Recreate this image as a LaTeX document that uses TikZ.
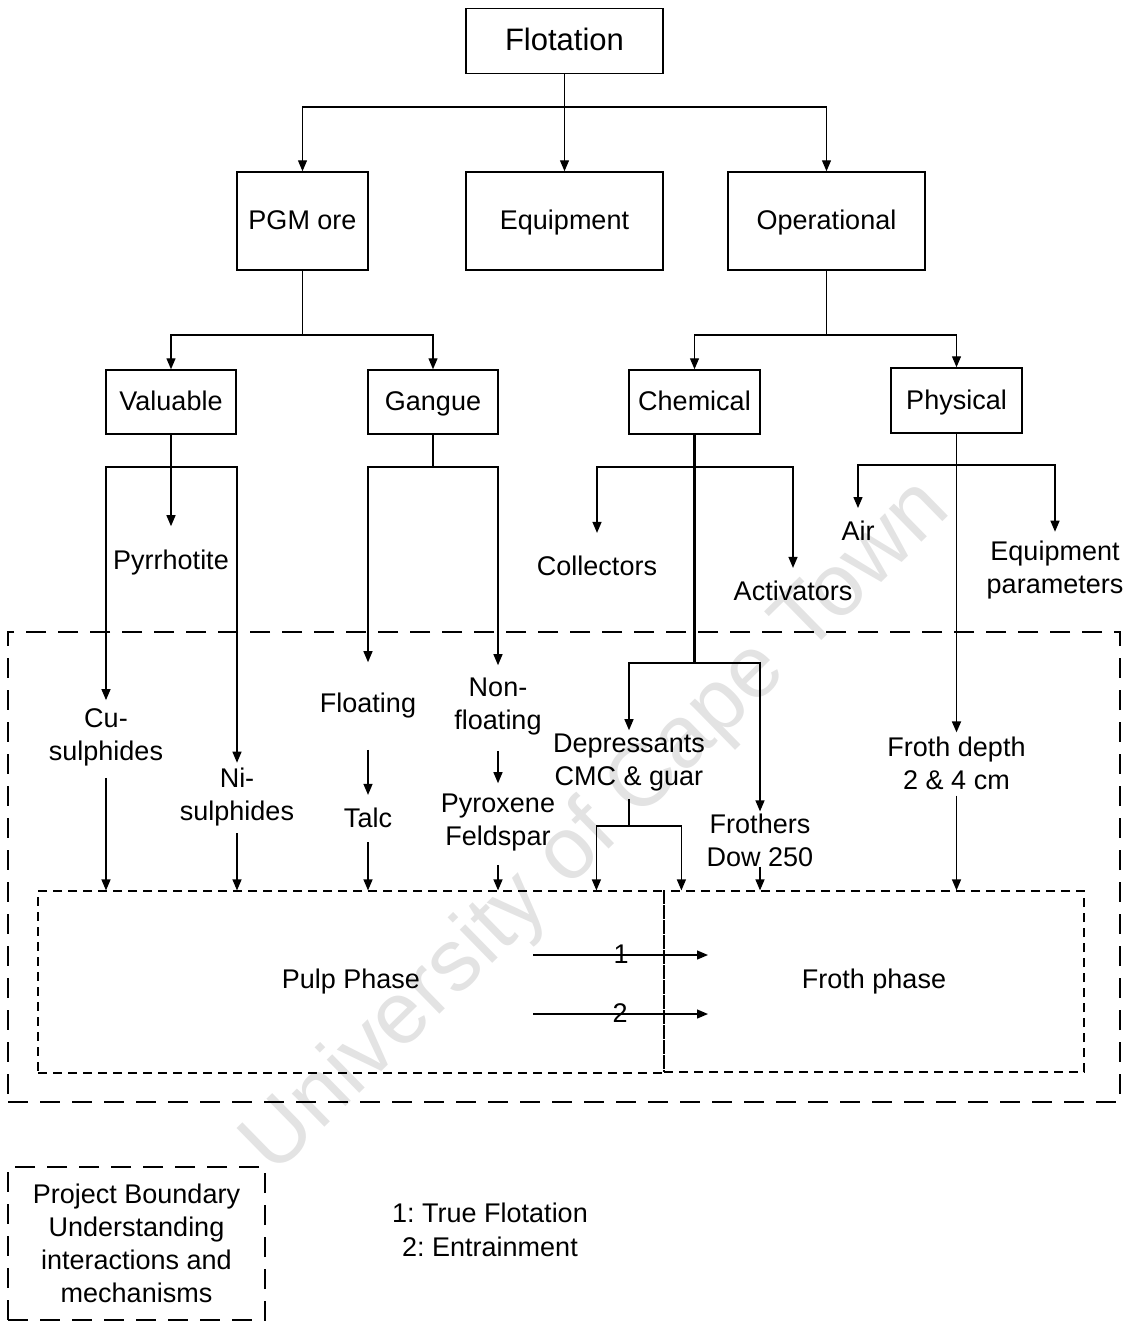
\documentclass[tikz,border=0pt]{standalone}
\usepackage{fontspec}
\setmainfont{Liberation Sans}
\usetikzlibrary{arrows.meta,calc}
\newcommand\fsmain{\fontsize{27}{33}\selectfont}
\newcommand\fsbig{\fontsize{31}{36}\selectfont}
\frenchspacing
\begin{document}
\frenchspacing
\begin{tikzpicture}[x=1pt,y=-1pt,
  box/.style={draw, line width=1.5pt, inner sep=0pt, font=\fsmain, text height=21pt, text depth=4pt},
  txt/.style={inner sep=0pt, align=center, font=\fsmain},
  ln/.style={line width=1.3pt},
  trunk/.style={line width=2.2pt},
  arr/.style={line width=1.3pt, -{Triangle[length=11pt,width=9pt]}},
  bigdash/.style={draw, line width=2.2pt, dash pattern=on 20pt off 12pt},
  smalldash/.style={draw, line width=1.2pt, dash pattern=on 9pt off 6pt, inner sep=0pt, font=\fsmain}
]
\useasboundingbox (0,0) rectangle (1127,1322);
% watermark
\node[rotate=44.4, text=black!11, inner sep=0pt, font=\fontsize{88}{90}\selectfont] (wm) at (598,828) {University of Cape Town};

% boxes
\node[box, minimum width=197pt, minimum height=65pt, font=\fsbig, text height=24pt, text depth=5pt] (flot) at (564.5,41) {Flotation};
\node[box, minimum width=131pt, minimum height=98pt] (pgm) at (302.5,221) {PGM ore};
\node[box, minimum width=197pt, minimum height=98pt] (equip) at (564.5,221) {Equipment};
\node[box, minimum width=197pt, minimum height=98pt] (oper) at (826.5,221) {Operational};
\node[box, minimum width=130pt, minimum height=64pt] (val) at (171,402) {Valuable};
\node[box, minimum width=130pt, minimum height=64pt] (gang) at (433,402) {Gangue};
\node[box, minimum width=131pt, minimum height=64pt] (chem) at (694.5,402) {Chemical};
\node[box, minimum width=131pt, minimum height=65pt] (phys) at (956.5,400.5) {Physical};

% boundary and phases
\node[bigdash, minimum width=1112pt, minimum height=470pt, inner sep=0pt] (bound) at (564,867) {};
\node[smalldash, minimum width=626pt, minimum height=182pt] (pulp) at (351,982) {Pulp Phase};
\node[smalldash, minimum width=420pt, minimum height=181pt] (frothph) at (874,981.5) {Froth phase};

% text nodes
\node[txt] (pyr) at (171,563) {Pyrrhotite};
\node[txt] (cu) at (106,737) {Cu-\\sulphides};
\node[txt] (ni) at (237,797) {Ni-\\sulphides};
\node[txt] (flt) at (368,706) {Floating};
\node[txt] (nonf) at (498,707) {Non-\\floating};
\node[txt] (talc) at (368,818) {Talc};
\node[txt] (pyrox) at (498,823) {Pyroxene\\Feldspar};
\node[txt] (coll) at (597,566) {Collectors};
\node[txt] (act) at (793,591) {Activators};
\node[txt] (dep) at (629,763) {Depressants\\CMC \& guar};
\node[txt] (froth) at (760,840) {Frothers\\Dow 250};
\node[txt] (air) at (858,531) {Air};
\node[txt] (eqp) at (1055,570) {Equipment\\parameters};
\node[txt] (fd) at (956.5,763) {Froth depth\\2 \& 4 cm};

% top level connectors
\coordinate (j1) at (564.5,107);
\draw[ln] (flot.south) -- (j1);
\draw[arr] (j1) -| (pgm.north);
\draw[arr] (j1) -- (equip.north);
\draw[arr] (j1) -| (oper.north);

\coordinate (j2) at (302.5,335);
\draw[ln] (pgm.south) -- (j2);
\draw[arr] (j2) -| (val.north);
\draw[arr] (j2) -| (gang.north);

\coordinate (j3) at (826.5,335);
\draw[ln] (oper.south) -- (j3);
\draw[arr] (j3) -| (chem.north);
\draw[arr] (j3) -| (phys.north);

% valuable
\coordinate (v1) at (171,467);
\draw[arr] (val.south) -- ([yshift=24pt]pyr.north);
\draw[arr] (v1) -| ([yshift=8pt]cu.north);
\draw[arr] (v1) -| ([yshift=5pt]ni.north);
\draw[arr] ([yshift=-12pt]cu.south) -- (cu.south |- pulp.north);
\draw[arr] ([yshift=-7pt]ni.south) -- (ni.south |- pulp.north);

% gangue
\coordinate (g1) at (433,467);
\draw[ln] (gang.south) -- (g1);
\draw[arr] (g1) -| ([yshift=31pt]flt.north);
\draw[arr] (g1) -| ([yshift=13pt]nonf.north);
\draw[arr] ([yshift=-31pt]flt.south) -- ([yshift=13pt]talc.north);
\draw[arr] ([yshift=-14pt]talc.south) -- (talc.south |- pulp.north);
\draw[arr] ([yshift=-15pt]nonf.south) -- ([yshift=11pt]pyrox.north);
\draw[arr] ([yshift=-13pt]pyrox.south) -- (pyrox.south |- pulp.north);

% chemical
\coordinate (c1) at (694.5,467);
\coordinate (c2) at (694.5,663);
\draw[trunk] (chem.south) -- (c2);
\draw[arr] (c1) -| ([yshift=23pt]coll.north);
\draw[arr] (c1) -| ([yshift=13pt]act.north);
\draw[arr] (c2) -| ([yshift=4pt]dep.north);
\draw[arr] (c2) -| ([yshift=2pt]froth.north);
\coordinate (d1) at (629,826);
\draw[ln] ([yshift=-7pt]dep.south) -- (d1);
\draw[arr] (d1) -| ([xshift=559pt]pulp.north west);
\draw[arr] (d1) -| ([xshift=18pt]frothph.north west);
\draw[arr] (froth.south) -- (froth.south |- frothph.north);

% physical
\coordinate (p1) at (956.5,465);
\draw[arr, line width=1.7pt] (phys.south) -- ([yshift=4pt]fd.north);
\draw[arr] (p1) -| ([yshift=13pt]air.north);
\draw[arr] (p1) -| ([yshift=9pt]eqp.north);
\draw[arr] ([yshift=-6pt]fd.south) -- (fd.south |- frothph.north);

% phase transfer arrows
\coordinate (a1s) at (533,955);
\coordinate (a1e) at (708,955);
\coordinate (a2s) at (533,1014);
\coordinate (a2e) at (708,1014);
\draw[arr] (a1s) -- (a1e);
\draw[arr] (a2s) -- (a2e);
\node[txt] (n1) at (621,954) {1};
\node[txt] (n2) at (620,1013) {2};

% legend
\node[bigdash, minimum width=257pt, minimum height=153pt, inner sep=0pt, align=center, font=\fsmain] (leg) at (136.5,1243.5) {Project Boundary\\Understanding\\interactions and\\mechanisms};
\node[txt, font=\fontsize{27}{34}\selectfont] (key) at (490,1230) {1: True Flotation\\2: Entrainment};
\end{tikzpicture}
\end{document}
